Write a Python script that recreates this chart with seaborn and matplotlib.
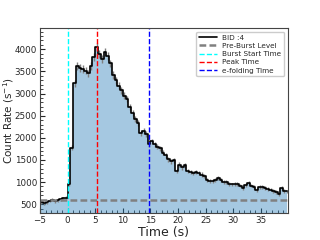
import numpy as np
import pandas as pd
import matplotlib
matplotlib.use("Agg")
import matplotlib.pyplot as plt
from matplotlib.ticker import MultipleLocator
import seaborn as sns

# light curve, 0.5 s bins (bin centres)
bin_width = 0.5
time = np.arange(-5, 40, bin_width) + bin_width / 2
rate = [540, 520, 545, 580, 600, 560, 590, 610, 630, 645,
        960, 1780, 3230, 3620, 3580, 3550, 3520, 3460, 3620, 3820,
        4060, 3900, 3780, 3930, 3850, 3680, 3420, 3300, 3180, 3070,
        2950, 2880, 2700, 2560, 2430, 2340, 2110, 2160, 2080, 1860,
        1920, 1850, 1800, 1760, 1660, 1600, 1510, 1470, 1490, 1250,
        1390, 1330, 1380, 1250, 1230, 1200, 1230, 1210, 1170, 1140,
        1040, 1030, 1020, 1040, 1090, 1050, 1010, 1000, 960, 945,
        950, 960, 920, 870, 940, 975, 920, 880, 820, 890,
        880, 860, 840, 830, 800, 770, 720, 860, 800, 790]

pre_burst_level = 590
burst_start = 0.0
peak_time = 5.25
efold_time = 14.8
bid_label = "BID :4"

df = pd.DataFrame({"time": time, "rate": rate})
df["err"] = np.sqrt(df["rate"] * bin_width) / bin_width

sns.set_style("ticks")
plt.rcParams["font.family"] = ["DejaVu Sans"]

fig = plt.figure(figsize=(3.2, 2.4), dpi=100)
ax = fig.add_axes([0.125, 0.1125, 0.775, 0.7705])

ymin, ymax = 300, 4480
ax.fill_between(df["time"], ymin, df["rate"], step="mid",
                color="tab:blue", alpha=0.4, lw=0)
ax.errorbar(df["time"], df["rate"], yerr=df["err"], fmt="none",
            ecolor="gray", elinewidth=1, capsize=0)
sns.lineplot(data=df, x="time", y="rate", ax=ax, color="black", lw=1.2,
             drawstyle="steps-mid", label=bid_label)

ax.axhline(pre_burst_level, color="gray", lw=1.8, ls=(0, (2.7, 1.3)),
           label="Pre-Burst Level")
ax.axvline(burst_start, color="cyan", lw=1, ls="--", label="Burst Start Time")
ax.axvline(peak_time, color="red", lw=1, ls="--", label="Peak Time")
ax.axvline(efold_time, color="blue", lw=1, ls="--", label="e-folding Time")

ax.set_xlim(-5, 39.9)
ax.set_ylim(ymin, ymax)
ax.xaxis.set_major_locator(MultipleLocator(5))
ax.xaxis.set_minor_locator(MultipleLocator(1))
ax.yaxis.set_major_locator(MultipleLocator(500))
ax.yaxis.set_minor_locator(MultipleLocator(100))
ax.tick_params(which="both", direction="in", labelsize=6.3, pad=2)
ax.tick_params(which="major", length=3.5)
ax.tick_params(which="minor", length=2)
ax.set_xlabel("Time (s)", fontsize=9, labelpad=1)
ax.set_ylabel("Count Rate (s$^{-1}$)", fontsize=7.5)
ax.yaxis.set_label_coords(-0.097, 0.5)
for s in ax.spines.values():
    s.set_color("#444444")

ax.legend(loc="upper right", fontsize=5.2, handlelength=2.4,
          borderpad=0.4, labelspacing=0.3, framealpha=1)

fig.savefig("out.png", dpi=100)
